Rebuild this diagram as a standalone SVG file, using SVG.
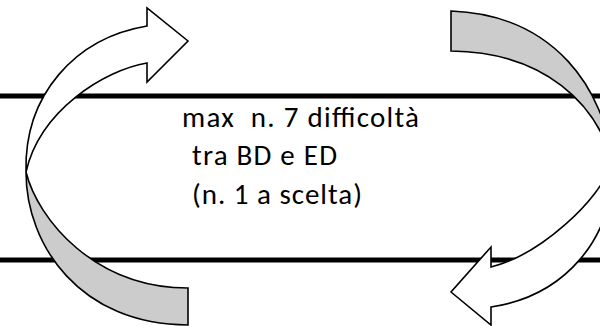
<svg xmlns="http://www.w3.org/2000/svg" width="600" height="326" viewBox="0 0 600 326">
<style>
.bar{stroke:#000;stroke-width:5;fill:none}
.back{fill:#cccccc;stroke:#000;stroke-width:1.6;stroke-linejoin:miter}
.front{fill:#fff;stroke:#000;stroke-width:1.6;stroke-linejoin:miter}
.lbl{font-family:Carlito,"Open Sans","Liberation Sans",sans-serif;font-size:29px;fill:#000;white-space:pre}
</style>
<rect width="600" height="326" fill="#fff"/>
<g id="bars">
<line class="bar" x1="0" y1="96" x2="600" y2="96"/>
<line class="bar" x1="0" y1="260" x2="600" y2="260"/>
</g>
<g id="arrow-left">
<path class="back" d="M188,288 L188,325 C80,325 26,245 26,172 C38,220 95,288 188,288 Z"/>
<path class="front" d="M147,26 C75,38 24,95 26,172 C40,110 105,70 147,63 L147,82 L188,41 L147,8 Z"/>
</g>
<g id="arrow-right">
<path class="back" d="M451,11 L451,51 C545,52 598,105 612,163 C605,90 555,15 451,11 Z"/>
<path class="front" d="M491,307 C564,296 615,239 612,163 C600,200 540,255 491,267 L491,247 L451,292 L491,325 Z"/>
</g>
<g id="label">
<text class="lbl" x="182" y="127" textLength="237">max  n. 7 difficoltà</text>
<text class="lbl" x="192" y="165" textLength="145">tra BD e ED</text>
<text class="lbl" x="192" y="204" textLength="170">(n. 1 a scelta)</text>
</g>
</svg>
